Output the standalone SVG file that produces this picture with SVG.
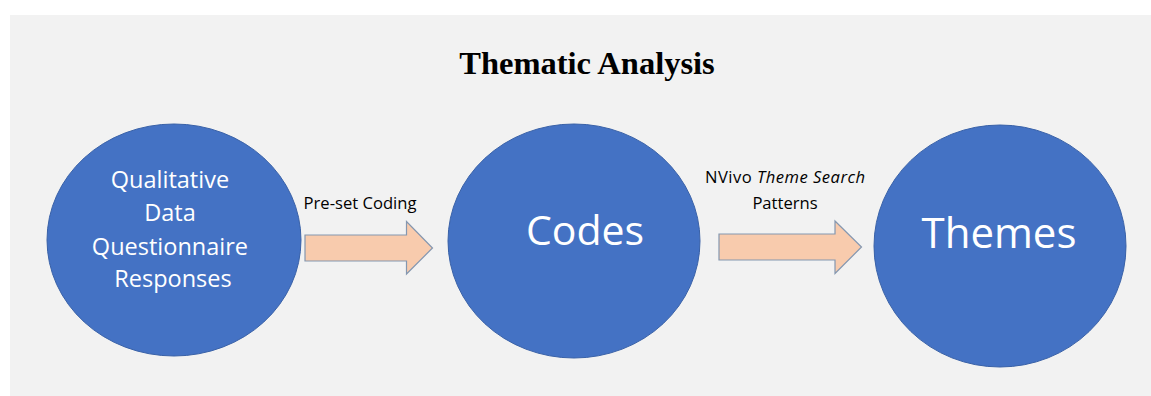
<svg xmlns="http://www.w3.org/2000/svg" width="1151" height="396" viewBox="0 0 1151 396">
  <style>
    .bg { fill: #f2f2f2; }
    .title { font-family: "Liberation Serif", "Times New Roman", serif; font-weight: bold; font-size: 32.5px; fill: #000; }
    .node { fill: #4472c4; stroke: #3a62a8; stroke-width: 1; }
    .node-text { font-family: "Open Sans", "Noto Sans", sans-serif; fill: #ffffff; text-anchor: middle; }
    .arrow { fill: #f8cbad; stroke: #8497b0; stroke-width: 1.2; stroke-linejoin: miter; }
    .label { font-family: "Open Sans", "Noto Sans", sans-serif; font-size: 16.6px; fill: #000; text-anchor: middle; }
  </style>

  <rect class="bg" x="10" y="15" width="1141" height="381"/>

  <text class="title" x="587" y="74" text-anchor="middle">Thematic Analysis</text>

  <g id="node-data">
    <ellipse class="node" cx="174" cy="240" rx="127" ry="116"/>
    <text class="node-text" font-size="23.5">
      <tspan x="173" y="188">Qualitative</tspan>
      <tspan x="173" y="221">Data</tspan>
      <tspan x="173" y="255">Questionnaire</tspan>
      <tspan x="173" y="287">Responses</tspan>
    </text>
  </g>

  <g id="node-codes">
    <ellipse class="node" cx="574" cy="241" rx="126" ry="117"/>
    <text class="node-text" font-size="41" x="585" y="245">Codes</text>
  </g>

  <g id="node-themes">
    <ellipse class="node" cx="1000" cy="246" rx="126" ry="121"/>
    <text class="node-text" font-size="42" x="999" y="248">Themes</text>
  </g>

  <g id="connectors">
    <path class="arrow" d="M305,235 H406.5 V221.5 L432.5,248 L406.5,274 V261 H305 Z"/>
    <text class="label" x="360" y="209">Pre-set Coding</text>

    <path class="arrow" d="M719,234 H835 V221 L861.5,247 L835,273.5 V260 H719 Z"/>
    <text class="label" x="785" y="183" textLength="160" lengthAdjust="spacing">NVivo <tspan font-style="italic">Theme Search</tspan></text>
    <text class="label" x="785" y="209">Patterns</text>
  </g>
</svg>
